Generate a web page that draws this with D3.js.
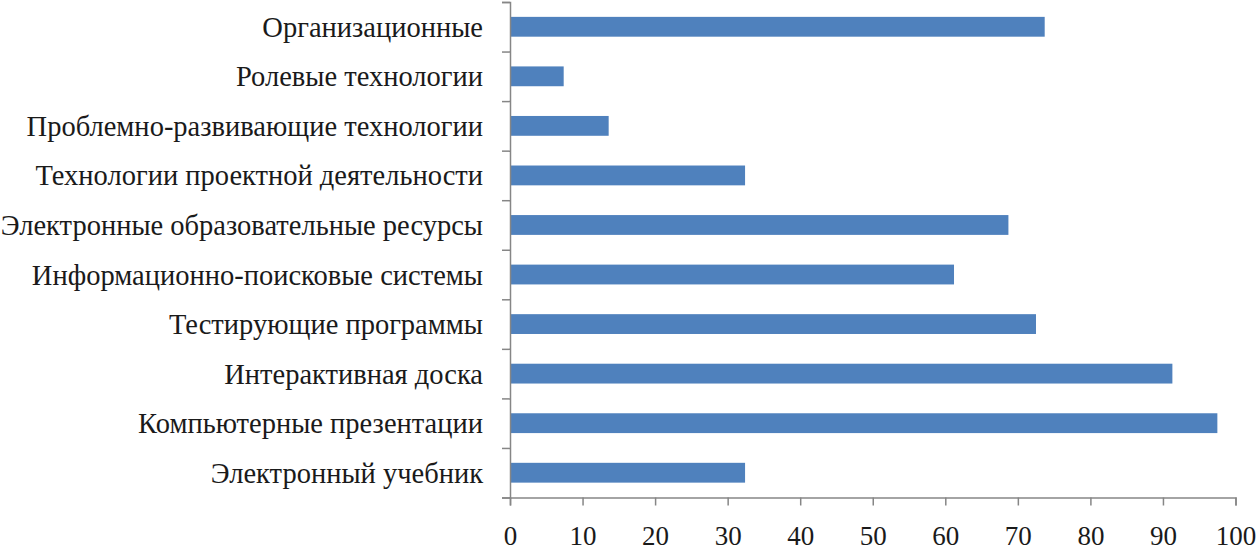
<!DOCTYPE html>
<html>
<head>
<meta charset="utf-8">
<script src="https://cdn.jsdelivr.net/npm/d3@7"></script>
<style>
  body { margin: 0; background: #fff; }
  text { font-family: "Liberation Serif", "Times New Roman", serif; fill: #1a1a1a; }
</style>
</head>
<body>
<div id="chart"></div>
<script>
// categories top to bottom, values in %
var categories = [
    "Организационные",
    "Ролевые технологии",
    "Проблемно-развивающие технологии",
    "Технологии проектной деятельности",
    "Электронные образовательные ресурсы",
    "Информационно-поисковые системы",
    "Тестирующие программы",
    "Интерактивная доска",
    "Компьютерные презентации",
    "Электронный учебник"
];
var values = [73.7, 7.4, 13.6, 32.4, 68.7, 61.2, 72.5, 91.3, 97.5, 32.4];
var xTicks = [0, 10, 20, 30, 40, 50, 60, 70, 80, 90, 100];

function init(){
    var w = 1258;
    var h = 551;
    var left = 510, right = 1235.5, top = 2, bottom = 497.5;

    var svg = d3.select("#chart")
                .append("svg")
                .attr("width", w)
                .attr("height", h);

    var xscale = d3.scaleLinear()
                    .domain([0, 100])
                    .range([left, right]);

    var yscale = d3.scaleBand()
                    .domain(categories)
                    .range([top, bottom])
                    .paddingInner(0.6)
                    .paddingOuter(0.3);

    // boundary ticks for the category axis
    var yedge = d3.scaleLinear()
                    .domain([0, categories.length])
                    .range([top, bottom]);

    svg.selectAll("rect")
        .data(values)
        .enter()
        .append("rect")
        .attr("x", xscale(0))
        .attr("y", function(d, i) { return yscale(categories[i]); })
        .attr("width", function(d) { return xscale(d) - xscale(0); })
        .attr("height", yscale.bandwidth())
        .attr("fill", "#4F81BD");

    var yaxis = svg.append("g")
        .attr("transform", "translate(" + left + ",0)")
        .call(d3.axisLeft(yedge).ticks(10).tickSize(8).tickFormat(""));

    var xaxis = svg.append("g")
        .attr("transform", "translate(0," + bottom + ")")
        .call(d3.axisBottom(xscale).tickValues(xTicks).tickSize(8).tickSizeOuter(8).tickPadding(20));

    [yaxis, xaxis].forEach(function(a){
        a.selectAll("path, line").attr("stroke", "#868686").attr("stroke-width", 1.5);
    });
    xaxis.selectAll("text")
        .style("font-size", "27px")
        .style("font-family", "'Liberation Serif', serif")
        .attr("fill", "#1a1a1a");

    svg.selectAll("text.cat")
        .data(categories)
        .enter()
        .append("text")
        .attr("class", "cat")
        .text(function(d) { return d; })
        .attr("x", 483)
        .attr("y", function(d) { return yscale(d) + yscale.bandwidth() / 2; })
        .attr("dy", "0.35em")
        .attr("text-anchor", "end")
        .style("font-size", "28.5px");
}
window.onload = init;
</script>
</body>
</html>
